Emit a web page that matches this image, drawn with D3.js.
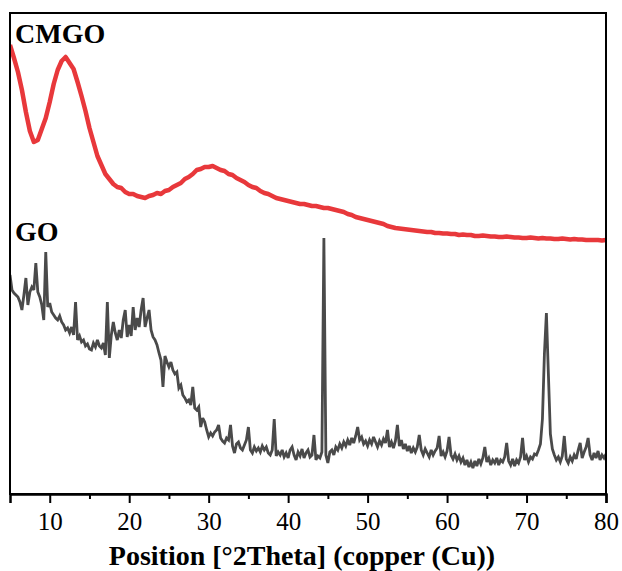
<!DOCTYPE html>
<html>
<head>
<meta charset="utf-8">
<script src="https://cdn.jsdelivr.net/npm/d3@7"></script>
<style>
  html, body { margin: 0; padding: 0; background: #fff; }
  svg { display: block; }
</style>
</head>
<body>
<svg id="chart" width="622" height="571"></svg>
<script>
// ---- Data (2θ in degrees, intensity in arbitrary units) ----
const xStart = 5;
const xEnd = 80;
const cmgoStep = 0.5;   // CMGO sampled every 0.5°
const goStep = 0.25;    // GO sampled every 0.25°

const majorTicks = [10, 20, 30, 40, 50, 60, 70, 80];
const minorTicks = [15, 25, 35, 45, 55, 65, 75];
const seriesNames = ["CMGO", "GO"];
const xTitle = "Position [°2Theta] (copper (Cu))";

// CMGO intensities, two values per degree (x, x+0.5) from 5° to 80°
const cmgoY = [
  449, 436,  422, 404,  382, 363,  352, 354,  365, 376,  // 5-9
  392, 410,  424, 433,  437, 431,  425, 412,  398, 383,  // 10-14
  366, 352,  338, 329,  320, 315,  310, 307,  306, 302,  // 15-19
  300, 300,  298, 297,  296, 298,  299, 301,  300, 303,  // 20-24
  304, 307,  309, 311,  315, 317,  320, 324,  325, 327,  // 25-29
  327, 328,  326, 324,  323, 320,  319, 316,  314, 312,  // 30-34
  309, 307,  306, 303,  301, 300,  298, 296,  295, 294,  // 35-39
  293, 292,  291, 290,  290, 289,  288, 288,  287, 286,  // 40-44
  286, 285,  284, 283,  282, 280,  279, 277,  276, 275,  // 45-49
  274, 273,  272, 271,  270, 268,  267, 266,  265.5, 265, // 50-54
  264.5, 264,  263.5, 263,  262.5, 262,  262, 261,  261, 260.5, // 55-59
  260.5, 260,  260, 259,  259.5, 259,  259, 258,  258, 258.5, // 60-64
  258, 257.5,  257.5, 257,  257, 257.5,  257, 256.5,  256.5, 256, // 65-69
  256, 256.5,  256, 255.5,  256, 255.5,  255.5, 255,  255, 255.5, // 70-74
  255, 254.5,  255, 254.5,  254.5, 254,  254, 254,  254, 253.5, // 75-79
  254 // 80
];

// GO intensities, four values per degree (x, x+.25, x+.5, x+.75) from 5° to 80°
const goY = [
  219, 204, 201, 199,   // 5
  197, 192, 184, 199,   // 6
  216, 189, 202, 207,   // 7
  204, 231, 202, 197,   // 8
  189, 174, 242, 187,   // 9
  191, 182, 179, 176,   // 10
  174, 178, 172, 169,   // 11
  164, 166, 161, 167,   // 12
  159, 192, 154, 158,   // 13
  152, 154, 148, 150,   // 14
  145, 144, 151, 147,   // 15
  154, 148, 146, 151,   // 16
  139, 192, 136, 159,   // 17
  172, 161, 154, 164,   // 18
  156, 174, 184, 157,   // 19
  169, 158, 187, 164,   // 20
  176, 167, 184, 196,   // 21
  167, 176, 184, 164,   // 22
  157, 154, 149, 141,   // 23
  134, 107, 138, 132,   // 24
  127, 132, 124, 120,   // 25
  122, 106, 109, 99,    // 26
  96, 92, 94, 89,       // 27
  107, 86, 84, 87,      // 28
  67, 76, 72, 64,       // 29
  57, 61, 58, 62,       // 30
  64, 69, 56, 53,       // 31
  51, 56, 54, 69,       // 32
  48, 41, 50, 52,       // 33
  46, 44, 49, 54,       // 34
  67, 44, 41, 47,       // 35
  43, 46, 42, 48,       // 36
  44, 47, 41, 39,       // 37
  44, 75, 38, 42,       // 38
  39, 44, 37, 41,       // 39
  36, 44, 47, 39,       // 40
  34, 42, 38, 45,       // 41
  36, 41, 44, 37,       // 42
  39, 59, 34, 38,       // 43
  36, 42, 256, 39,      // 44
  31, 42, 44, 39,       // 45
  47, 44, 50, 46,       // 46
  52, 48, 54, 49,       // 47
  56, 51, 58, 67,       // 48
  54, 57, 50, 53,       // 49
  48, 54, 50, 57,       // 50
  52, 47, 53, 49,       // 51
  55, 51, 64, 47,       // 52
  52, 46, 53, 69,       // 53
  48, 54, 45, 50,       // 54
  43, 48, 41, 46,       // 55
  42, 47, 59, 44,       // 56
  39, 45, 41, 37,       // 57
  44, 39, 43, 46,       // 58
  58, 38, 42, 37,       // 59
  43, 57, 39, 35,       // 60
  40, 34, 38, 32,       // 61
  36, 29, 34, 27,       // 62
  32, 26, 33, 28,       // 63
  35, 30, 36, 47,       // 64
  32, 36, 29, 34,       // 65
  31, 36, 29, 34,       // 66
  32, 37, 51, 33,       // 67
  29, 35, 28, 34,       // 68
  31, 37, 56, 34,       // 69
  38, 32, 37, 35,       // 70
  40, 39, 44, 50,       // 71
  75, 140, 181, 120,    // 72
  60, 45, 39, 34,       // 73
  37, 32, 38, 58,       // 74
  35, 31, 37, 33,       // 75
  39, 35, 44, 51,       // 76
  36, 42, 47, 56,       // 77
  39, 34, 41, 36,       // 78
  43, 34, 39, 36,       // 79
  40                    // 80
];

const seriesColors = ["#e8383b", "#4a4a4a"];

// ---- Layout ----
const svg = d3.select("#chart");
const mLeft = 10, mRight = 606, mTop = 13, mBottom = 494;
const serif = "'Liberation Serif', 'Times New Roman', Times, serif";

const x = d3.scaleLinear().domain([xStart, xEnd]).range([mLeft, mRight]);
const y = d3.scaleLinear().domain([0, mBottom - mTop]).range([mBottom, mTop]);

const cmgoData = cmgoY.map((v, i) => ({ x: xStart + i * cmgoStep, y: v }));
const goData = goY.map((v, i) => ({ x: xStart + i * goStep, y: v }));

const line = d3.line().x(d => x(d.x)).y(d => y(d.y));

svg.append("defs").append("clipPath").attr("id", "clip")
  .append("rect").attr("x", mLeft).attr("y", mTop)
  .attr("width", mRight - mLeft).attr("height", mBottom - mTop);

const plot = svg.append("g").attr("clip-path", "url(#clip)");

plot.append("path").datum(goData)
  .attr("fill", "none").attr("stroke", seriesColors[1])
  .attr("stroke-width", 2.8).attr("stroke-linejoin", "miter").attr("stroke-miterlimit", 3)
  .attr("d", line);

plot.append("path").datum(cmgoData)
  .attr("fill", "none").attr("stroke", seriesColors[0])
  .attr("stroke-width", 4.5).attr("stroke-linejoin", "round")
  .attr("d", line);

// frame
svg.append("rect").attr("x", mLeft).attr("y", mTop)
  .attr("width", mRight - mLeft).attr("height", mBottom - mTop)
  .attr("fill", "none").attr("stroke", "#000").attr("stroke-width", 2);

// bottom axis: major ticks with labels
const axisMajor = d3.axisBottom(x).tickValues(majorTicks).tickSize(9).tickPadding(9)
  .tickFormat(d3.format("d"));
const gx = svg.append("g").attr("transform", `translate(0,${mBottom})`).call(axisMajor)
  .attr("font-family", serif).attr("font-size", 25);
gx.select(".domain").attr("stroke", "#000").attr("stroke-width", 2.5);
gx.selectAll(".tick line").attr("stroke", "#000").attr("stroke-width", 2);
gx.selectAll(".tick text")
  .style("font-family", serif).style("font-size", "25px").attr("fill", "#000");

// minor ticks
const axisMinor = d3.axisBottom(x).tickValues(minorTicks).tickSize(5).tickFormat(() => "");
const gm = svg.append("g").attr("transform", `translate(0,${mBottom})`).call(axisMinor);
gm.select(".domain").remove();
gm.selectAll(".tick line").attr("stroke", "#000").attr("stroke-width", 2);

// axis title
svg.append("text")
  .attr("x", 302).attr("y", 565)
  .attr("text-anchor", "middle")
  .style("font-family", serif)
  .attr("font-weight", "bold").attr("font-size", 28)
  .attr("fill", "#000")
  .text(xTitle);

// series labels
svg.append("text").attr("x", 15).attr("y", 43)
  .style("font-family", serif).attr("font-weight", "bold").attr("font-size", 28)
  .attr("fill", "#000").text(seriesNames[0]);
svg.append("text").attr("x", 15).attr("y", 241)
  .style("font-family", serif).attr("font-weight", "bold").attr("font-size", 28)
  .attr("fill", "#000").text(seriesNames[1]);
</script>
</body>
</html>
